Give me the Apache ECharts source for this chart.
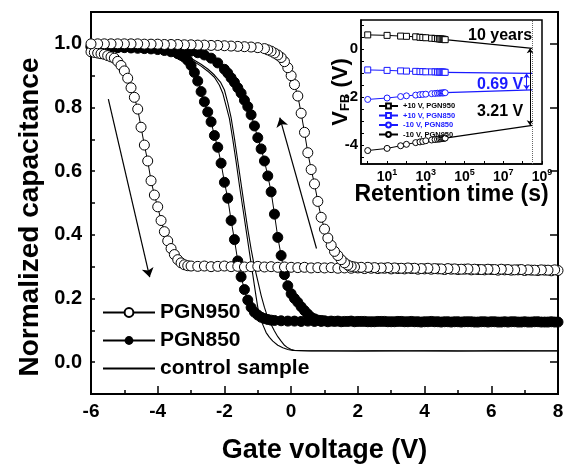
<!DOCTYPE html>
<html>
<head>
<meta charset="utf-8">
<title>C-V hysteresis</title>
<script src="https://cdn.jsdelivr.net/npm/echarts@6/dist/echarts.min.js"></script>
</head>
<body style="margin:0">
<div id="main" style="width:566px;height:465px;"></div>
<script>
// C-V sweeps, [gate voltage (V), normalized capacitance]
var pgn950Fwd = [[-6.0,0.975],[-5.9,0.973],[-5.8,0.971],[-5.7,0.969],[-5.6,0.967],[-5.5,0.963],[-5.4,0.959],[-5.3,0.955],[-5.2,0.945],[-5.1,0.932],[-5.0,0.915],[-4.9,0.892],[-4.8,0.862],[-4.7,0.832],[-4.6,0.795],[-4.5,0.738],[-4.4,0.682],[-4.3,0.632],[-4.2,0.570],[-4.1,0.525],[-4.0,0.488],[-3.9,0.445],[-3.8,0.410],[-3.7,0.381],[-3.6,0.357],[-3.5,0.338],[-3.4,0.322],[-3.3,0.312],[-3.2,0.306],[-3.1,0.303],[-3.0,0.302],[-2.8,0.301],[-2.6,0.302],[-2.4,0.300],[-2.2,0.301],[-2.0,0.302],[-1.8,0.300],[-1.6,0.301],[-1.4,0.299],[-1.2,0.300],[-1.0,0.301],[-0.8,0.299],[-0.6,0.300],[-0.4,0.298],[-0.2,0.299],[0.0,0.298],[0.2,0.297],[0.4,0.298],[0.6,0.296],[0.8,0.297],[1.0,0.296],[1.2,0.297],[1.4,0.295],[1.6,0.296],[1.8,0.295],[2.0,0.296],[2.2,0.294],[2.4,0.295],[2.6,0.294],[2.8,0.295],[3.0,0.293],[3.2,0.294],[3.4,0.293],[3.6,0.294],[3.8,0.292],[4.0,0.293],[4.2,0.292],[4.4,0.293],[4.6,0.291],[4.8,0.292],[5.0,0.291],[5.2,0.292],[5.4,0.290],[5.6,0.291],[5.8,0.290],[6.0,0.291],[6.2,0.289],[6.4,0.290],[6.6,0.289],[6.8,0.290],[7.0,0.288],[7.2,0.289],[7.4,0.288],[7.6,0.289],[7.8,0.287],[8.0,0.288]];
var pgn950Rev = [[7.9,0.290],[7.7,0.289],[7.5,0.290],[7.3,0.289],[7.1,0.290],[6.9,0.291],[6.7,0.290],[6.5,0.291],[6.3,0.292],[6.1,0.291],[5.9,0.292],[5.7,0.291],[5.5,0.292],[5.3,0.293],[5.1,0.292],[4.9,0.293],[4.7,0.294],[4.5,0.293],[4.3,0.294],[4.1,0.295],[3.9,0.294],[3.7,0.295],[3.5,0.296],[3.3,0.295],[3.1,0.296],[2.9,0.297],[2.7,0.296],[2.5,0.297],[2.3,0.298],[2.1,0.298],[1.9,0.299],[1.8,0.301],[1.7,0.305],[1.6,0.312],[1.5,0.322],[1.4,0.335],[1.3,0.348],[1.2,0.367],[1.1,0.390],[1.0,0.418],[0.9,0.455],[0.8,0.505],[0.7,0.560],[0.6,0.605],[0.5,0.658],[0.4,0.722],[0.3,0.782],[0.2,0.836],[0.1,0.872],[0.0,0.900],[-0.1,0.925],[-0.2,0.944],[-0.3,0.957],[-0.4,0.965],[-0.5,0.971],[-0.6,0.977],[-0.7,0.981],[-0.8,0.985],[-1.0,0.988],[-1.2,0.990],[-1.4,0.991],[-1.6,0.992],[-1.8,0.993],[-2.0,0.994],[-2.2,0.995],[-2.4,0.995],[-2.6,0.996],[-2.8,0.996],[-3.0,0.997],[-3.2,0.997],[-3.4,0.998],[-3.6,0.998],[-3.8,0.998],[-4.0,0.999],[-4.2,0.999],[-4.4,0.999],[-4.6,1.0],[-4.8,1.0],[-5.0,1.0],[-5.2,1.0],[-5.4,1.0],[-5.6,1.0],[-5.8,1.0],[-6.0,1.0]];
var pgn850Fwd = [[-6.0,0.990],[-5.8,0.990],[-5.6,0.989],[-5.4,0.989],[-5.2,0.988],[-5.0,0.988],[-4.8,0.987],[-4.6,0.986],[-4.4,0.985],[-4.2,0.984],[-4.0,0.982],[-3.8,0.979],[-3.6,0.975],[-3.4,0.969],[-3.3,0.964],[-3.2,0.958],[-3.1,0.948],[-3.0,0.932],[-2.9,0.910],[-2.8,0.883],[-2.7,0.850],[-2.6,0.818],[-2.5,0.786],[-2.4,0.755],[-2.3,0.712],[-2.2,0.675],[-2.1,0.625],[-2.0,0.565],[-1.9,0.515],[-1.8,0.445],[-1.7,0.385],[-1.6,0.318],[-1.5,0.268],[-1.4,0.228],[-1.3,0.195],[-1.2,0.172],[-1.1,0.157],[-1.0,0.148],[-0.9,0.141],[-0.8,0.137],[-0.7,0.134],[-0.6,0.132],[-0.5,0.131],[-0.3,0.130],[-0.1,0.129],[0.1,0.129],[0.3,0.128],[0.5,0.129],[0.7,0.128],[0.9,0.128],[1.1,0.127],[1.3,0.128],[1.5,0.127],[1.7,0.128],[1.9,0.127],[2.1,0.128],[2.3,0.127],[2.5,0.127],[2.7,0.128],[2.9,0.127],[3.1,0.127],[3.3,0.128],[3.5,0.127],[3.7,0.127],[3.9,0.126],[4.1,0.127],[4.3,0.127],[4.5,0.126],[4.7,0.127],[4.9,0.127],[5.1,0.126],[5.3,0.127],[5.5,0.126],[5.7,0.127],[5.9,0.126],[6.1,0.127],[6.3,0.126],[6.5,0.126],[6.7,0.127],[6.9,0.126],[7.1,0.126],[7.3,0.127],[7.5,0.126],[7.7,0.126],[7.9,0.126]];
var pgn850Rev = [[8.0,0.126],[7.8,0.127],[7.6,0.126],[7.4,0.127],[7.2,0.126],[7.0,0.127],[6.8,0.126],[6.6,0.127],[6.4,0.127],[6.2,0.126],[6.0,0.127],[5.8,0.127],[5.6,0.126],[5.4,0.127],[5.2,0.127],[5.0,0.127],[4.8,0.126],[4.6,0.127],[4.4,0.127],[4.2,0.128],[4.0,0.127],[3.8,0.127],[3.6,0.128],[3.4,0.127],[3.2,0.128],[3.0,0.127],[2.8,0.128],[2.6,0.128],[2.4,0.127],[2.2,0.128],[2.0,0.128],[1.8,0.129],[1.6,0.128],[1.4,0.129],[1.2,0.129],[1.0,0.130],[0.9,0.131],[0.8,0.132],[0.7,0.136],[0.6,0.141],[0.5,0.151],[0.4,0.162],[0.3,0.174],[0.2,0.188],[0.1,0.200],[0.0,0.215],[-0.1,0.240],[-0.2,0.275],[-0.3,0.335],[-0.4,0.392],[-0.5,0.465],[-0.6,0.535],[-0.7,0.585],[-0.8,0.632],[-0.9,0.670],[-1.0,0.705],[-1.1,0.742],[-1.2,0.777],[-1.3,0.803],[-1.4,0.823],[-1.5,0.845],[-1.6,0.862],[-1.7,0.879],[-1.8,0.893],[-1.9,0.908],[-2.0,0.920],[-2.2,0.940],[-2.4,0.955],[-2.6,0.965],[-2.8,0.972],[-3.0,0.977],[-3.2,0.980],[-3.4,0.982],[-3.6,0.984],[-3.8,0.985],[-4.0,0.986],[-4.4,0.988],[-4.8,0.989],[-5.2,0.990],[-5.6,0.991],[-6.0,0.992]];
var controlA = [[-6.0,0.995],[-5.0,0.992],[-4.5,0.988],[-4.0,0.982],[-3.5,0.970],[-3.0,0.950],[-2.7,0.930],[-2.5,0.914],[-2.3,0.895],[-2.15,0.870],[-2.05,0.845],[-1.95,0.805],[-1.85,0.765],[-1.75,0.700],[-1.65,0.630],[-1.55,0.555],[-1.45,0.485],[-1.35,0.415],[-1.25,0.345],[-1.15,0.275],[-1.05,0.205],[-0.95,0.140],[-0.85,0.118],[-0.75,0.093],[-0.65,0.078],[-0.55,0.066],[-0.4,0.053],[-0.25,0.045],[-0.1,0.040],[0.05,0.037],[0.5,0.036],[1.0,0.036],[2.0,0.035],[3.0,0.036],[4.0,0.036],[5.0,0.035],[6.0,0.036],[7.0,0.036],[8.0,0.036]];
var controlB = [[-6.0,0.995],[-5.0,0.993],[-4.5,0.990],[-4.0,0.985],[-3.5,0.974],[-3.0,0.955],[-2.7,0.936],[-2.5,0.921],[-2.3,0.902],[-2.12,0.880],[-2.0,0.855],[-1.9,0.815],[-1.8,0.768],[-1.7,0.703],[-1.6,0.632],[-1.5,0.560],[-1.4,0.488],[-1.3,0.418],[-1.2,0.355],[-1.1,0.300],[-1.0,0.255],[-0.9,0.210],[-0.8,0.172],[-0.7,0.140],[-0.6,0.118],[-0.5,0.098],[-0.4,0.080],[-0.3,0.066],[-0.2,0.053],[-0.1,0.045],[0.0,0.040],[0.1,0.037],[0.3,0.036],[0.6,0.035],[1.5,0.035],[2.5,0.036],[3.5,0.035],[4.5,0.036],[5.5,0.035],[6.5,0.036],[7.5,0.035],[8.0,0.035]];

// sweep direction arrows, [V, C] start and end
var arrowDown = [[-5.48, 0.826], [-4.24, 0.267]];
var arrowUp = [[0.76, 0.357], [-0.34, 0.768]];

// retention inset
var retentionTime = [1, 10, 50, 100, 300, 500, 700, 1000, 2000, 3000, 4000, 5000, 6000, 7000, 8000, 9000, 10000];
var vfbProg950 = [0.58, 0.56, 0.53, 0.52, 0.50, 0.48, 0.47, 0.46, 0.44, 0.43, 0.42, 0.41, 0.41, 0.40, 0.40, 0.39, 0.38];
var vfbProg850 = [-0.88, -0.90, -0.92, -0.93, -0.94, -0.95, -0.95, -0.96, -0.96, -0.96, -0.97, -0.97, -0.97, -0.97, -0.97, -0.98, -0.98];
var vfbErase850 = [-2.11, -2.05, -1.99, -1.96, -1.93, -1.91, -1.90, -1.89, -1.87, -1.86, -1.85, -1.85, -1.84, -1.84, -1.84, -1.83, -1.83];
var vfbErase950 = [-4.24, -4.15, -4.04, -3.98, -3.91, -3.88, -3.86, -3.83, -3.80, -3.78, -3.77, -3.76, -3.75, -3.74, -3.73, -3.73, -3.72];
var tenYears = 3.15e8;
var extrapTime = [10000, tenYears];
var extProg950 = [0.38, 0.02];
var extProg850 = [-0.98, -1.02];
var extErase850 = [-1.83, -1.71];
var extErase950 = [-3.72, -3.19];

var FONT = 'Liberation Sans, Arial, sans-serif';
var BLUE = '#1a1aff';

function zip(xs, ys) {
    return xs.map(function (x, i) { return [x, ys[i]]; });
}

var myChart = echarts.init(document.getElementById('main'));

var hollow = {color: '#fff', borderColor: '#000', borderWidth: 1};

function cvSeries(name, data, filled) {
    return {
        name: name, type: 'line', xAxisIndex: 0, yAxisIndex: 0, data: data,
        symbol: 'circle', symbolSize: 10,
        itemStyle: filled ? {color: '#000', borderColor: '#000'} : hollow,
        lineStyle: {color: '#000', width: 1},
        animation: false
    };
}

function controlSeries(data) {
    return {
        name: 'control sample', type: 'line', xAxisIndex: 0, yAxisIndex: 0, data: data,
        symbol: 'none', itemStyle: {color: '#000'},
        lineStyle: {color: '#000', width: 1.1}, animation: false
    };
}

function retSeries(name, ys, color, shape) {
    return {
        name: name, type: 'line', xAxisIndex: 1, yAxisIndex: 2, data: zip(retentionTime, ys),
        symbol: shape, symbolSize: 6,
        itemStyle: {color: '#fff', borderColor: color, borderWidth: 1},
        lineStyle: {color: color, width: 1}, animation: false
    };
}

function extSeries(ys, color) {
    return {
        type: 'line', xAxisIndex: 1, yAxisIndex: 2, data: zip(extrapTime, ys),
        symbol: 'none', lineStyle: {color: color, width: 1.2}, animation: false
    };
}

var s950 = cvSeries('PGN950', pgn950Fwd, false);
s950.markLine = {
    silent: true, symbol: ['none', 'arrow'], symbolSize: 9, animation: false,
    label: {show: false},
    lineStyle: {color: '#000', width: 1.2, type: 'solid'},
    data: [
        [{coord: arrowDown[0]}, {coord: arrowDown[1]}],
        [{coord: arrowUp[0]}, {coord: arrowUp[1]}]
    ]
};

var ext950 = extSeries(extErase950, '#000');
ext950.markLine = {
    silent: true, animation: false, label: {show: false},
    symbol: ['arrow', 'arrow'], symbolSize: 5,
    data: [
        [{coord: [2.4e8, extProg950[1]], lineStyle: {color: '#000', width: 1, type: 'solid'}},
         {coord: [2.4e8, extErase950[1]]}],
        [{coord: [1.6e8, extProg850[1]], lineStyle: {color: BLUE, width: 1, type: 'solid'}, itemStyle: {color: BLUE}},
         {coord: [1.6e8, extErase850[1]]}]
    ]
};

var extP950 = extSeries(extProg950, '#000');
extP950.markLine = {
    silent: true, animation: false, label: {show: false}, symbol: 'none',
    lineStyle: {color: '#666', width: 1, type: 'dotted'},
    data: [{xAxis: tenYears}]
};

var supFmt = function (v) {
    var e = Math.round(Math.log(v) / Math.LN10);
    return '{b|10}{s|' + e + '}';
};

var option = {
    backgroundColor: '#fff',
    textStyle: {fontFamily: FONT},
    grid: [
        {left: 91, right: 8, top: 12, bottom: 71, show: true, borderColor: '#000', borderWidth: 2,
            outerBoundsMode: 'none'},
        {left: 361, right: 24, top: 20, bottom: 301, show: true, borderColor: '#000', borderWidth: 1.5,
            outerBoundsMode: 'none'}
    ],
    legend: [
        {
            data: ['PGN950', 'PGN850', {name: 'control sample', itemStyle: {opacity: 0}}],
            orient: 'vertical', left: 97, top: 297,
            itemWidth: 52, itemHeight: 11, itemGap: 7,
            textStyle: {fontSize: 21, fontWeight: 'bold', color: '#000', fontFamily: FONT, lineHeight: 21}
        },
        {
            data: [
                {name: '+10 V, PGN950', textStyle: {color: '#000'}},
                {name: '+10 V, PGN850', textStyle: {color: BLUE}},
                {name: '-10 V, PGN850', textStyle: {color: BLUE}},
                {name: '-10 V, PGN950', textStyle: {color: '#000'}}
            ],
            orient: 'vertical', left: 373, top: 97,
            itemWidth: 19, itemHeight: 6, itemGap: 1.5,
            textStyle: {fontSize: 7.5, fontWeight: 'bold', fontFamily: FONT, lineHeight: 8}
        }
    ],
    xAxis: [
        {
            type: 'value', gridIndex: 0, min: -6, max: 8, interval: 2,
            axisLine: {onZero: false, lineStyle: {color: '#000', width: 2}},
            axisTick: {inside: true, length: 8, lineStyle: {width: 1.5}},
            minorTick: {show: true, splitNumber: 2, length: 4, lineStyle: {color: '#000', width: 1.5}},
            splitLine: {show: false},
            axisLabel: {fontSize: 19, fontWeight: 'bold', color: '#000', margin: 8},
            name: 'Gate voltage (V)', nameLocation: 'middle', nameGap: 43, nameMoveOverlap: false,
            nameTextStyle: {fontSize: 27, fontWeight: 'bold', color: '#000'}
        },
        {
            type: 'log', gridIndex: 1, logBase: 10, min: 0.45, max: 1e9,
            axisLine: {onZero: false, lineStyle: {color: '#000', width: 1.5}},
            axisTick: {inside: true, length: 3, customValues: [1, 10, 100, 1e3, 1e4, 1e5, 1e6, 1e7, 1e8, 1e9]},
            splitLine: {show: false}, minorTick: {show: false},
            axisLabel: {
                customValues: [10, 1e3, 1e5, 1e7, 1e9], formatter: supFmt, margin: 4, color: '#000',
                rich: {
                    b: {fontSize: 14, fontWeight: 'bold', color: '#000', fontFamily: FONT},
                    s: {fontSize: 9, fontWeight: 'bold', color: '#000', fontFamily: FONT, padding: [0, 0, 10, 0]}
                }
            },
            name: 'Retention time (s)', nameLocation: 'middle', nameGap: 19, nameMoveOverlap: false,
            nameTextStyle: {fontSize: 23, fontWeight: 'bold', color: '#000'}
        }
    ],
    yAxis: [
        {
            type: 'value', gridIndex: 0, min: -0.1, max: 1.1, interval: 0.1,
            axisLine: {onZero: false, lineStyle: {color: '#000', width: 2}},
            axisTick: {inside: true, length: 4, lineStyle: {width: 1.5}},
            splitLine: {show: false},
            axisLabel: {
                customValues: [0, 0.2, 0.4, 0.6, 0.8, 1.0],
                formatter: function (v) { return v.toFixed(1); },
                fontSize: 20, fontWeight: 'bold', color: '#000', margin: 9
            },
            name: 'Normalized capacitance', nameLocation: 'middle', nameGap: 47, nameRotate: 90,
            nameMoveOverlap: false,
            nameTextStyle: {fontSize: 28, fontWeight: 'bold', color: '#000', padding: [0, 28, 0, 0]}
        },
        {
            type: 'value', gridIndex: 0, min: -0.1, max: 1.1,
            axisLine: {show: false, onZero: false},
            axisTick: {inside: true, length: 8, lineStyle: {width: 1.5, color: '#000'},
                customValues: [0, 0.2, 0.4, 0.6, 0.8, 1.0]},
            axisLabel: {show: false}, splitLine: {show: false}
        },
        {
            type: 'value', gridIndex: 1, min: -4.8, max: 1.2,
            axisLine: {onZero: false, lineStyle: {color: '#000', width: 1.5}},
            axisTick: {inside: true, length: 3,
                customValues: [-4.5, -4, -3.5, -3, -2.5, -2, -1.5, -1, -0.5, 0, 0.5, 1]},
            splitLine: {show: false},
            axisLabel: {customValues: [-4, -2, 0], fontSize: 15, fontWeight: 'bold', color: '#000', margin: 3},
            name: '{v|V}{sub|FB}{v| (V)}', nameLocation: 'middle', nameGap: 9, nameRotate: 90,
            nameMoveOverlap: false,
            nameTextStyle: {
                rich: {
                    v: {fontSize: 22, fontWeight: 'bold', color: '#000', fontFamily: FONT},
                    sub: {fontSize: 13, fontWeight: 'bold', color: '#000', fontFamily: FONT, padding: [10, 0, 0, 0]}
                }
            }
        }
    ],
    graphic: [
        {type: 'text', left: 468, top: 28, style: {text: '10 years', font: 'bold 16px ' + FONT, fill: '#000'}},
        {type: 'text', left: 477, top: 77, style: {text: '0.69 V', font: 'bold 16px ' + FONT, fill: BLUE}},
        {type: 'text', left: 477, top: 104, style: {text: '3.21 V', font: 'bold 16px ' + FONT, fill: '#000'}}
    ],
    series: [
        controlSeries(controlA),
        controlSeries(controlB),
        cvSeries('PGN850', pgn850Fwd, true),
        cvSeries('PGN850', pgn850Rev, true),
        s950,
        cvSeries('PGN950', pgn950Rev, false),
        extP950,
        extSeries(extProg850, BLUE),
        extSeries(extErase850, BLUE),
        ext950,
        retSeries('+10 V, PGN950', vfbProg950, '#000', 'rect'),
        retSeries('+10 V, PGN850', vfbProg850, BLUE, 'rect'),
        retSeries('-10 V, PGN850', vfbErase850, BLUE, 'circle'),
        retSeries('-10 V, PGN950', vfbErase950, '#000', 'circle')
    ]
};

myChart.setOption(option);
</script>
</body>
</html>
